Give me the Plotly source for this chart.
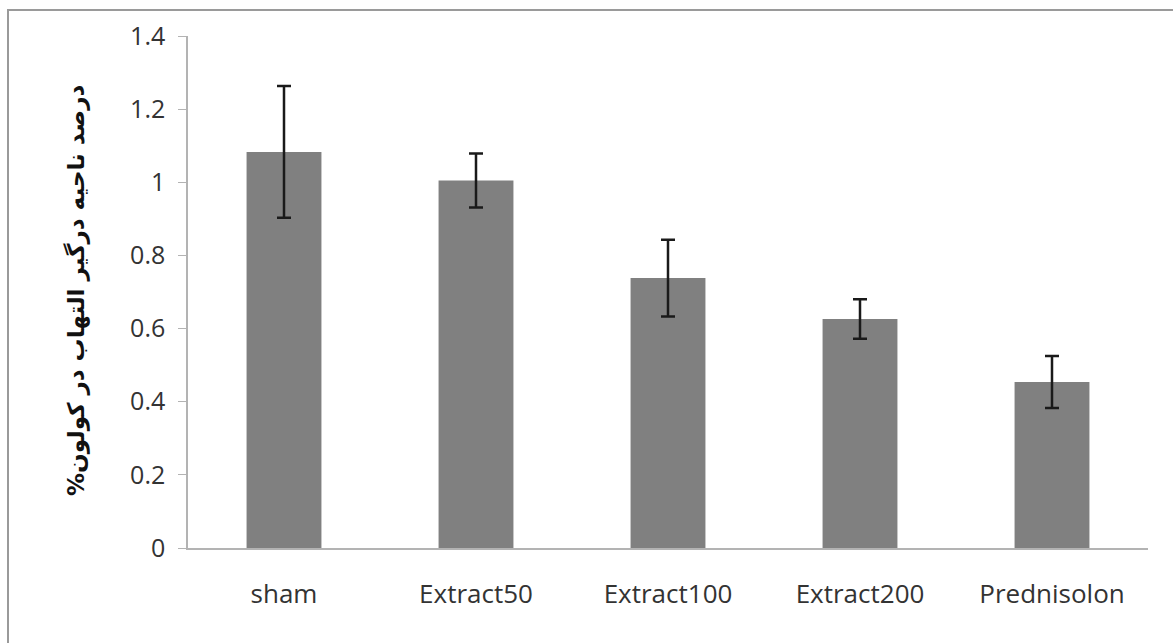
import plotly.graph_objects as go

categories = ["sham", "Extract50", "Extract100", "Extract200", "Prednisolon"]
means = [1.083, 1.005, 0.738, 0.626, 0.454]
errors = [0.18, 0.074, 0.105, 0.054, 0.071]
y_ticks = [0, 0.2, 0.4, 0.6, 0.8, 1.0, 1.2, 1.4]
y_ticktext = ["0", "0.2", "0.4", "0.6", "0.8", "1", "1.2", "1.4"]
y_title = "درصد ناحیه درگیر التهاب در کولون%"

L, R, T, B = 188, 25, 36, 95
W, H = 1173, 643
pw, ph = W - L - R, H - T - B

fig = go.Figure()
fig.add_trace(go.Bar(
    x=categories, y=means,
    marker=dict(color="#808080", line=dict(width=0)),
    width=0.39,
    error_y=dict(type="data", array=errors, visible=True, color="#1a1a1a", thickness=2.5, width=7),
))

fig.update_layout(
    width=W, height=H,
    paper_bgcolor="white", plot_bgcolor="white",
    margin=dict(l=L, r=R, t=T, b=B, autoexpand=False),
    showlegend=False,
    font=dict(family="Open Sans, DejaVu Sans, sans-serif", color="#333333", size=24),
    xaxis=dict(
        automargin=False,
        showline=True, linecolor="#b3b3b3", linewidth=2,
        ticks="", tickfont=dict(size=26, color="#333333"),
        ticklabelstandoff=22,
    ),
    yaxis=dict(
        automargin=False,
        range=[0, 1.4], tickvals=y_ticks, ticktext=y_ticktext,
        showgrid=False, zeroline=False,
        showline=True, linecolor="#b3b3b3", linewidth=1.5,
        ticks="outside", ticklen=8, tickcolor="#b3b3b3",
        tickfont=dict(size=25, color="#333333"),
        ticklabelstandoff=8,
    ),
    annotations=[dict(
        text=y_title + "\u200F", textangle=-90, showarrow=False,
        xref="paper", yref="paper", x=(76 - L) / pw, y=(548 - 290) / ph,
        xanchor="center", yanchor="middle",
        font=dict(family="DejaVu Sans", size=23, color="#111111", weight="bold"),
    )],
    shapes=[dict(type="rect", xref="paper", yref="paper",
                 x0=(8 - L) / pw, y0=(548 - 660) / ph, x1=(1185 - L) / pw, y1=(548 - 10) / ph,
                 line=dict(color="#9a9a9a", width=2))],
)

fig.write_html("out.html", config={"displayModeBar": False},
               post_script="document.body.style.margin='0';document.body.style.overflow='hidden';")
